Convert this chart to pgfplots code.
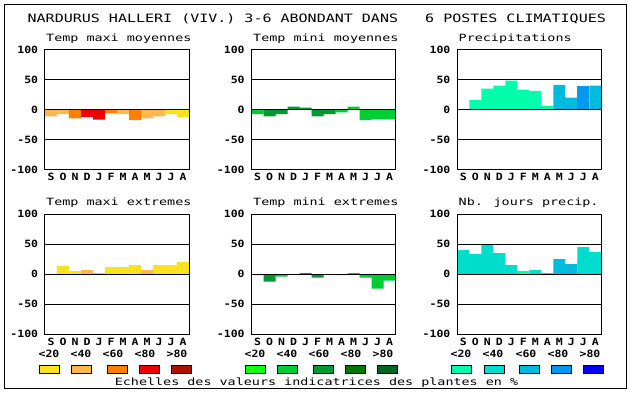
\documentclass[border=0pt]{standalone}
\usepackage{fontspec}
\usepackage{pgfplots}
\pgfplotsset{compat=1.18}
\newfontfamily\titlefont[FakeStretch=1.305]{DejaVu Sans Mono}
\newfontfamily\subfont[FakeStretch=1.34]{DejaVu Sans Mono}
\newfontfamily\tickfont[FakeStretch=1.15]{DejaVu Sans Mono}
\definecolor{c1}{HTML}{FAE31C}
\definecolor{c2}{HTML}{FFB84D}
\definecolor{c3}{HTML}{FF8000}
\definecolor{c4}{HTML}{EE0000}
\definecolor{c5}{HTML}{AA1100}
\definecolor{g1}{HTML}{11FF11}
\definecolor{g2}{HTML}{00CC33}
\definecolor{g3}{HTML}{009933}
\definecolor{g4}{HTML}{007700}
\definecolor{g5}{HTML}{006622}
\definecolor{b1}{HTML}{00FFAA}
\definecolor{b2}{HTML}{00DDCC}
\definecolor{b3}{HTML}{00BBDD}
\definecolor{b4}{HTML}{0099EE}
\definecolor{b5}{HTML}{0000FF}
\pgfplotsset{
  panel/.style={
    scale only axis, width=144pt, height=120pt, anchor=south west,
    xmin=-0.5, xmax=11.5, ymin=-100, ymax=100,
    ytick={-100,-50,0,50,100}, yticklabels={-100,-50,0,50,100},
    xtick={0,...,11}, xticklabels={S,O,N,D,J,F,M,A,M,J,J,A},
    major tick length=0pt,
    ymajorgrids, grid style={black, line width=1pt},
    axis line style={black, line width=1pt},
    axis on top,
    tick label style={font=\tickfont\bfseries, inner sep=0pt},
    yticklabel style={anchor=east, xshift=-6.7pt},
    xticklabel style={anchor=north, yshift=-3.3pt},
  },
  bars/.style={ybar, bar width=12pt, bar shift=0pt, draw=none, fill=#1},
}
\begin{document}
\begin{tikzpicture}
\fill[white] (0pt,0pt) rectangle (630pt,394pt);
\draw[black, line width=1pt] (4.5pt,389.5pt) rectangle (626pt,5pt);
\node[anchor=base, inner sep=0pt] at (316.8pt,371.5pt) {\fontsize{11.5pt}{13pt}\titlefont NARDURUS HALLERI (VIV.) 3-6 ABONDANT DANS\ \ \ 6 POSTES CLIMATIQUES};

% Panel 1
\begin{axis}[panel, at={(45pt,224pt)}]
\addplot[bars=c2] coordinates {(0,-10.5) (1,-7) (6,-7) (8,-14) (9,-10.5)};
\addplot[bars=c3] coordinates {(2,-14) (5,-5.5) (7,-17)};
\addplot[bars=c4] coordinates {(3,-12) (4,-16)};
\addplot[bars=c1] coordinates {(10,-7) (11,-12)};
\end{axis}
% Panel 2
\begin{axis}[panel, at={(251.5pt,224pt)}]
\addplot[bars=g2] coordinates {(0,-7) (7,-4) (8,5.5) (9,-17) (10,-15.5) (11,-15.5)};
\addplot[bars=g3] coordinates {(1,-10.5) (2,-7) (3,5.5) (4,4) (5,-10.5) (6,-7)};
\end{axis}
% Panel 3
\begin{axis}[panel, at={(457.3pt,224pt)}]
\addplot[bars=b1] coordinates {(1,17) (2,35.5) (3,40.5) (4,49) (5,34) (6,32) (7,7)};
\addplot[bars=b3] coordinates {(8,42) (9,20.5) (11,40.5)};
\addplot[bars=b4] coordinates {(10,40.5)};
\end{axis}
% Panel 4
\begin{axis}[panel, at={(45pt,59.7pt)}]
\addplot[bars=c1] coordinates {(1,14) (2,5.5) (5,12) (6,12) (7,15.5) (9,15.5) (10,15.5) (11,20.5)};
\addplot[bars=c2] coordinates {(3,7) (4,2) (8,7)};
\end{axis}
% Panel 5
\begin{axis}[panel, at={(251.5pt,59.7pt)}]
\addplot[bars=g2] coordinates {(0,-1.5) (2,-4) (7,-1.5) (8,2) (9,-5.5) (10,-24) (11,-10.5)};
\addplot[bars=g3] coordinates {(1,-12) (4,2) (5,-5.5)};
\end{axis}
% Panel 6
\begin{axis}[panel, at={(457.3pt,59.7pt)}]
\addplot[bars=b2] coordinates {(0,40.5) (1,34) (2,49) (3,35.5) (4,15.5) (6,7) (7,2) (10,45.5) (11,37)};
\addplot[bars=b1] coordinates {(5,5.5)};
\addplot[bars=b3] coordinates {(8,25.5) (9,17)};
\end{axis}

% subtitles
\node[anchor=base west, inner sep=0pt, font=\subfont] at (46pt,352.5pt) {Temp maxi moyennes};
\node[anchor=base west, inner sep=0pt, font=\subfont] at (253pt,352.5pt) {Temp mini moyennes};
\node[anchor=base west, inner sep=0pt, font=\subfont] at (458.5pt,352.5pt) {Precipitations};
\node[anchor=base west, inner sep=0pt, font=\subfont] at (46pt,188.5pt) {Temp maxi extremes};
\node[anchor=base west, inner sep=0pt, font=\subfont] at (253pt,188.5pt) {Temp mini extremes};
\node[anchor=base west, inner sep=0pt, font=\subfont] at (458.5pt,188.5pt) {Nb. jours precip.};

% legend scales
\foreach \lx/\bx/\t/\c in {49/49/<20/c1, 81/81/<40/c2, 113/117/<60/c3, 145/149/<80/c4, 177/181/>80/c5,
  255/255/<20/g1, 287/287/<40/g2, 319/323/<60/g3, 351/355/<80/g4, 383/387/>80/g5,
  461/461/<20/b1, 493/494/<40/b2, 526/529/<60/b3, 558/561/<80/b4, 590/593/>80/b5}{
  \node[inner sep=0pt, font=\tickfont\bfseries] at (\lx pt,40pt) {\t};
  \draw[black, line width=0.8pt, fill=\c] ({\bx pt-10pt},29pt) rectangle ({\bx pt+10pt},21pt);
}
\node[anchor=base, inner sep=0pt, font=\subfont] at (316.5pt,8pt) {Echelles des valeurs indicatrices des plantes en \%};
\end{tikzpicture}
\end{document}
